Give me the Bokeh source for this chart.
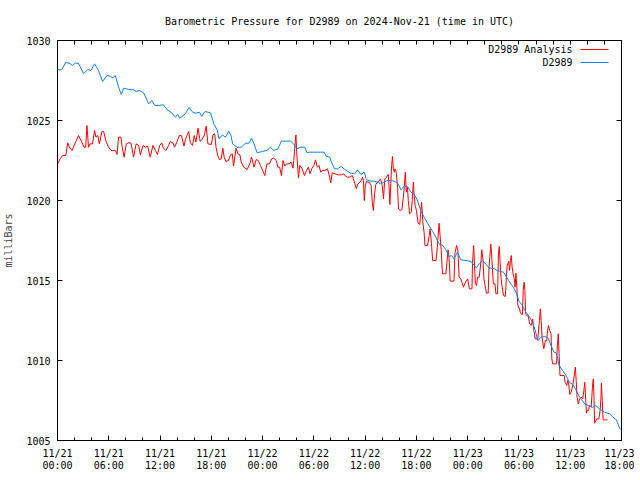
from bokeh.plotting import figure
from bokeh.models import Range1d, FixedTicker, LinearAxis, Label, BoxAnnotation
from bokeh.embed import file_html
from bokeh.resources import INLINE

# ---------------- data (hours since 2024-11-21 00:00 UTC, millibars) ----------------
title_text = "Barometric Pressure for D2989 on 2024-Nov-21 (time in UTC)"
y_label = "milliBars"
series_names = ["D2989 Analysis", "D2989"]

x_tick_hours = [0, 6, 12, 18, 24, 30, 36, 42, 48, 54, 60, 66]
x_minor_hours = list(range(0, 67, 2))
x_tick_labels = ["11/21\n00:00", "11/21\n06:00", "11/21\n12:00", "11/21\n18:00",
                 "11/22\n00:00", "11/22\n06:00", "11/22\n12:00", "11/22\n18:00",
                 "11/23\n00:00", "11/23\n06:00", "11/23\n12:00", "11/23\n18:00"]
y_ticks = [1005, 1010, 1015, 1020, 1025, 1030]

blue_hours = [0.0, 0.5, 1.0, 1.5, 1.75, 2.07, 2.46, 3.05, 3.55, 3.9, 4.34, 4.8, 5.28, 5.78,
              6.18, 6.49, 6.76, 7.15, 7.46, 7.74, 8.32, 8.9, 9.2, 9.6, 10.1, 10.67, 11.05,
              11.37, 11.84, 12.4, 12.8, 13.4, 13.8, 14.07, 14.3, 14.97, 15.4, 15.87, 16.25,
              16.6, 16.9, 17.1, 17.3, 17.9, 18.3, 18.7, 18.9, 19.3, 19.65, 20.05, 20.3, 20.5,
              21.0, 21.5, 22.0, 22.4, 22.7, 23.0, 23.36, 23.95, 24.5, 24.9, 25.3, 25.8, 26.2,
              26.7, 27.3, 27.7, 28.0, 28.45, 28.95, 29.2, 29.5, 30.0, 30.4, 30.8, 31.2, 31.45,
              31.85, 32.15, 32.4, 32.75, 33.2, 33.6, 34.0, 34.3, 34.8, 35.1, 35.5, 35.9, 36.15,
              36.7, 37.05, 37.45, 37.8, 38.2, 38.6, 39.0, 39.4, 39.8, 40.2, 40.55, 40.95, 41.35,
              41.7, 42.1, 42.5, 42.9, 43.3, 43.9, 44.3, 44.7, 45.1, 45.5, 45.8, 46.1, 46.4,
              46.8, 47.2, 47.8, 48.4, 49.0, 49.35, 49.75, 50.1, 50.5, 51.1, 51.7, 52.2, 52.5,
              52.8, 53.1, 53.4, 53.7, 54.0, 54.4, 54.8, 55.2, 55.6, 55.9, 56.2, 56.6, 57.0,
              57.4, 57.75, 58.1, 58.4, 58.7, 59.1, 59.5, 59.9, 60.3, 60.7, 61.1, 61.7, 62.1,
              62.6, 63.0, 63.4, 64.0, 64.6, 65.0, 65.4, 65.7, 65.85]
blue_mb = [1028.17, 1028.17, 1028.65, 1028.54, 1028.44, 1028.58, 1028.58, 1027.92, 1028.19,
           1028.12, 1028.54, 1028.12, 1027.44, 1027.81, 1027.77, 1027.66, 1027.81, 1027.08,
           1026.63, 1027.02, 1026.94, 1026.92, 1026.81, 1026.88, 1026.71, 1026.04, 1026.25,
           1025.94, 1025.94, 1025.98, 1025.69, 1025.46, 1025.21, 1025.38, 1025.14, 1025.42,
           1025.83, 1025.48, 1025.46, 1025.52, 1025.25, 1025.48, 1025.56, 1025.48, 1024.79,
           1024.38, 1023.85, 1024.10, 1023.96, 1024.33, 1024.06, 1023.54, 1023.33, 1023.33,
           1023.58, 1023.58, 1023.90, 1023.54, 1022.98, 1023.06, 1023.13, 1023.33, 1023.13,
           1023.23, 1023.71, 1023.71, 1023.71, 1023.48, 1023.23, 1023.33, 1023.33, 1022.98,
           1023.02, 1023.02, 1023.02, 1023.02, 1023.02, 1022.77, 1022.71, 1022.29, 1021.98,
           1021.98, 1022.13, 1021.95, 1021.81, 1021.71, 1021.67, 1021.92, 1021.63, 1021.77,
           1021.29, 1021.21, 1021.21, 1021.15, 1021.04, 1021.15, 1021.25, 1021.25, 1021.21,
           1021.08, 1020.67, 1020.88, 1020.88, 1020.52, 1020.42, 1020.04, 1019.38, 1018.96,
           1018.58, 1018.08, 1017.67, 1017.25, 1017.19, 1016.88, 1016.50, 1016.56, 1016.35,
           1016.77, 1016.29, 1016.25, 1016.19, 1015.79, 1016.04, 1016.25, 1016.04, 1015.79,
           1015.73, 1015.58, 1015.52, 1015.25, 1015.00, 1014.75, 1014.54, 1014.21, 1013.71,
           1013.44, 1013.02, 1012.75, 1012.39, 1011.88, 1011.25, 1011.46, 1011.50, 1011.42,
           1010.94, 1010.52, 1010.46, 1009.69, 1009.38, 1009.06, 1008.64, 1008.50, 1008.13,
           1007.71, 1007.29, 1007.19, 1007.08, 1007.19, 1006.98, 1006.77, 1006.67, 1006.46,
           1006.29, 1005.88, 1005.69]

red_hours = [0.0, 0.3, 0.6, 0.97, 1.2, 1.4, 1.7, 2.07, 2.46, 2.85, 3.1, 3.3, 3.45, 3.63, 3.8,
             4.1, 4.34, 4.5, 4.72, 4.9, 5.2, 5.4, 5.7, 5.98, 6.25, 6.76, 6.96, 7.15, 7.42, 7.6,
             7.8, 8.05, 8.3, 8.6, 8.9, 9.2, 9.5, 9.7, 10.0, 10.3, 10.55, 10.85, 11.17, 11.45,
             11.7, 11.96, 12.2, 12.4, 12.7, 13.0, 13.2, 13.5, 13.7, 14.0, 14.25, 14.5, 14.8,
             14.97, 15.15, 15.35, 15.55, 15.8, 16.0, 16.2, 16.45, 16.7, 16.9, 17.0, 17.2, 17.4,
             17.6, 18.0, 18.2, 18.4, 18.55, 18.75, 18.95, 19.15, 19.35, 19.5, 19.7, 20.0,
             20.25, 20.45, 20.6, 20.9, 21.1, 21.35, 21.5, 21.8, 22.2, 22.5, 22.7, 23.0, 23.25,
             23.5, 23.75, 24.0, 24.25, 24.5, 24.8, 25.05, 25.3, 25.6, 25.8, 26.0, 26.2, 26.4,
             26.6, 26.8, 27.1, 27.35, 27.55, 27.65, 27.75, 27.9, 28.0, 28.2, 28.35, 28.6, 28.9,
             29.15, 29.35, 29.55, 29.75, 30.0, 30.2, 30.4, 30.6, 30.8, 31.0, 31.3, 31.6, 31.85,
             31.97, 32.15, 32.5, 32.85, 33.25, 33.5, 33.7, 33.9, 34.2, 34.5, 34.8, 34.97, 35.15,
             35.4, 35.55, 35.7, 35.8, 35.9, 36.0, 36.15, 36.3, 36.5, 36.7, 36.85, 36.97, 37.1,
             37.25, 37.45, 37.6, 37.8, 38.0, 38.15, 38.3, 38.5, 38.7, 38.8, 38.9, 39.0, 39.1,
             39.2, 39.3, 39.42, 39.5, 39.58, 39.65, 39.8, 39.9, 40.1, 40.3, 40.45, 40.55, 40.7,
             40.82, 40.95, 41.05, 41.2, 41.4, 41.5, 41.65, 41.72, 41.85, 42.0, 42.2, 42.4, 42.5,
             42.6, 42.68, 42.75, 42.9, 43.0, 43.3, 43.5, 43.6, 43.75, 43.9, 44.3, 44.45, 44.65,
             44.77, 44.9, 45.05, 45.45, 45.57, 45.7, 45.82, 45.95, 46.4, 46.5, 46.7, 46.85,
             47.0, 47.2, 47.5, 47.75, 48.0, 48.2, 48.5, 48.57, 48.7, 48.9, 49.05, 49.15, 49.35,
             49.55, 49.65, 49.8, 49.9, 50.1, 50.2, 50.4, 50.5, 50.6, 50.7, 50.8, 51.0, 51.2,
             51.3, 51.5, 51.6, 51.7, 51.78, 51.9, 52.0, 52.2, 52.4, 52.48, 52.6, 52.8, 52.9,
             53.0, 53.1, 53.2, 53.3, 53.45, 53.55, 53.65, 53.75, 53.85, 53.95, 54.05, 54.15,
             54.3, 54.4, 54.5, 54.6, 54.7, 54.78, 54.9, 55.1, 55.25, 55.45, 55.6, 55.75, 55.9,
             56.2, 56.4, 56.5, 56.6, 56.7, 56.9, 57.1, 57.25, 57.35, 57.45, 57.6, 57.75, 57.85,
             57.95, 58.4, 58.5, 58.6, 58.7, 58.8, 59.3, 59.4, 59.6, 59.7, 59.8, 59.95, 60.1,
             60.3, 60.5, 60.6, 60.7, 60.8, 60.95, 61.1, 61.3, 61.45, 61.6, 61.7, 61.9, 62.0,
             62.15, 62.25, 62.45, 62.6, 62.7, 62.78, 62.85, 63.0, 63.1, 63.35, 63.5, 63.6,
             63.65, 63.75, 63.85, 64.35]
red_mb = [1022.29, 1022.60, 1022.81, 1022.81, 1023.60, 1023.33, 1023.13, 1023.60, 1024.06,
          1023.65, 1023.33, 1023.33, 1024.69, 1023.33, 1023.54, 1023.54, 1024.38, 1023.96,
          1024.06, 1023.54, 1024.31, 1024.31, 1023.65, 1023.33, 1023.13, 1023.13, 1022.88,
          1023.96, 1023.96, 1023.23, 1022.71, 1023.54, 1023.60, 1023.60, 1022.71, 1023.54,
          1023.44, 1022.85, 1023.44, 1023.33, 1023.40, 1022.71, 1023.44, 1023.13, 1022.88,
          1023.44, 1023.60, 1023.27, 1023.13, 1023.44, 1023.69, 1023.60, 1023.33, 1023.69,
          1024.06, 1024.06, 1023.40, 1023.81, 1024.06, 1024.31, 1023.60, 1023.44, 1024.06,
          1023.65, 1024.52, 1023.69, 1023.81, 1023.90, 1024.10, 1024.65, 1023.54, 1023.50,
          1024.10, 1024.17, 1023.33, 1022.81, 1022.56, 1022.60, 1023.27, 1022.71, 1022.44,
          1022.50, 1022.85, 1022.92, 1022.15, 1023.27, 1022.92, 1022.85, 1022.40, 1022.08,
          1021.94, 1022.29, 1022.71, 1022.08, 1022.56, 1022.50, 1022.19, 1021.88, 1021.56,
          1022.29, 1022.29, 1022.60, 1022.65, 1022.50, 1022.08, 1022.08, 1021.56, 1022.50,
          1022.15, 1022.29, 1022.29, 1022.40, 1022.02, 1022.50, 1023.23, 1024.10, 1022.92,
          1021.40, 1022.19, 1022.02, 1021.56, 1021.88, 1022.08, 1021.67, 1021.98, 1022.19,
          1022.54, 1022.08, 1022.19, 1021.77, 1021.88, 1021.88, 1021.98, 1021.46, 1021.10,
          1021.73, 1021.67, 1021.60, 1021.60, 1021.67, 1021.52, 1021.46, 1021.46, 1021.56,
          1021.04, 1020.73, 1021.04, 1021.15, 1021.25, 1021.46, 1021.25, 1020.00, 1020.83,
          1021.21, 1021.15, 1021.15, 1020.94, 1019.79, 1019.38, 1020.42, 1021.00, 1021.15,
          1021.21, 1021.35, 1020.94, 1020.10, 1021.35, 1021.46, 1021.63, 1020.83, 1019.75,
          1021.04, 1022.19, 1022.75, 1021.98, 1021.77, 1021.98, 1021.90, 1021.67, 1020.83,
          1019.48, 1019.38, 1019.42, 1020.10, 1020.63, 1021.77, 1020.52, 1020.83, 1020.00,
          1019.17, 1019.27, 1020.00, 1021.15, 1020.42, 1019.69, 1019.38, 1018.58, 1018.50,
          1019.27, 1019.90, 1019.38, 1018.65, 1018.02, 1017.19, 1017.19, 1017.81, 1018.23,
          1017.40, 1016.25, 1016.25, 1017.08, 1018.58, 1017.81, 1016.88, 1015.42, 1015.42,
          1016.15, 1016.92, 1016.46, 1014.96, 1014.96, 1016.67, 1017.19, 1016.88, 1015.21,
          1015.10, 1014.58, 1014.90, 1015.10, 1014.48, 1014.48, 1016.15, 1017.19, 1014.79,
          1014.69, 1015.21, 1015.21, 1016.15, 1016.92, 1016.25, 1015.10, 1014.48, 1014.21,
          1014.21, 1015.83, 1016.50, 1017.29, 1016.67, 1014.79, 1014.79, 1014.17, 1014.17,
          1016.67, 1017.13, 1016.25, 1015.21, 1014.69, 1014.06, 1014.00, 1014.69, 1015.88,
          1016.21, 1015.63, 1016.25, 1016.56, 1015.83, 1015.46, 1015.10, 1014.58, 1015.46,
          1014.58, 1013.54, 1013.29, 1013.29, 1013.02, 1012.88, 1012.88, 1014.38, 1014.90,
          1014.38, 1012.92, 1012.81, 1012.75, 1012.29, 1012.19, 1012.60, 1011.88, 1011.35,
          1011.35, 1012.50, 1013.23, 1012.50, 1011.46, 1010.73, 1011.25, 1011.25, 1011.88,
          1012.19, 1011.88, 1011.67, 1010.10, 1009.79, 1009.79, 1010.94, 1011.67, 1010.42,
          1009.06, 1009.06, 1008.64, 1008.44, 1008.75, 1008.64, 1007.88, 1008.02, 1008.44,
          1009.17, 1009.58, 1008.75, 1007.71, 1007.29, 1007.60, 1007.71, 1007.60, 1008.13,
          1008.64, 1006.71, 1006.88, 1006.88, 1007.19, 1007.08, 1008.33, 1008.85, 1007.71,
          1006.08, 1006.25, 1006.35, 1006.35, 1006.88, 1007.71, 1008.58, 1007.50, 1006.29,
          1006.29]

# ---------------- styling ----------------
FONT = "DejaVu Sans Mono"
FS = "10px"
RED = "#ff0000"
BLUE = "#0a80f5"

p = figure(frame_width=564, frame_height=400, output_backend="svg", toolbar_location=None,
           x_range=Range1d(0, 66), y_range=Range1d(1005, 1030),
           x_axis_type=None, y_axis_type=None,
           min_border_left=55, min_border_right=13, min_border_top=40, min_border_bottom=30)

p.title.text = title_text
p.title.align = "center"
p.title.text_font = FONT
p.title.text_font_size = FS
p.title.text_font_style = "normal"
p.title.text_color = "black"
p.title.standoff = 27
p.xgrid.visible = False
p.ygrid.visible = False
p.outline_line_color = "black"
p.background_fill_color = "white"
p.border_fill_color = "white"


def style_axis(ax):
    ax.major_tick_in = 5
    ax.major_tick_out = 0
    ax.minor_tick_in = 3
    ax.minor_tick_out = 0
    ax.axis_line_color = "black"
    ax.major_tick_line_color = "black"
    ax.minor_tick_line_color = "black"
    ax.major_label_text_font = FONT
    ax.major_label_text_font_size = FS
    ax.major_label_text_color = "black"
    ax.major_label_standoff = 7
    return ax


x_overrides = {h: lab for h, lab in zip(x_tick_hours, x_tick_labels)}

bottom = style_axis(LinearAxis(ticker=FixedTicker(ticks=x_tick_hours, minor_ticks=x_minor_hours)))
bottom.major_label_overrides = x_overrides
bottom.major_label_text_line_height = 1.1

left = style_axis(LinearAxis(ticker=FixedTicker(ticks=y_ticks, minor_ticks=[])))
left.axis_label = y_label
left.axis_label_text_font = FONT
left.axis_label_text_font_size = FS
left.axis_label_text_font_style = "normal"
left.axis_label_standoff = 9

# mirror axes (ticks only, no labels): tick positions given as minor ticks
top = style_axis(LinearAxis(ticker=FixedTicker(ticks=[], minor_ticks=x_minor_hours)))
top.minor_tick_in = 4
top.major_label_standoff = 0
right = style_axis(LinearAxis(ticker=FixedTicker(ticks=[], minor_ticks=y_ticks)))
right.minor_tick_in = 5
right.major_label_standoff = 0

p.add_layout(bottom, "below")
p.add_layout(top, "above")
p.add_layout(left, "left")
p.add_layout(right, "right")

p.line(red_hours, red_mb, line_color=RED, line_width=1)
p.line(blue_hours, blue_mb, line_color=BLUE, line_width=1)

# legend (gnuplot style: text then sample line), screen units relative to the frame
for i, (name, col) in enumerate(zip(series_names, [RED, BLUE])):
    yy = 391 - 13 * i
    p.add_layout(Label(x=515, y=yy, x_units="screen", y_units="screen", text=name,
                       text_font=FONT, text_font_size=FS, text_align="right",
                       text_baseline="middle", text_color="black"))
    p.add_layout(BoxAnnotation(left=523, right=551, bottom=yy - 0.5, top=yy + 0.5,
                               left_units="screen", right_units="screen",
                               bottom_units="screen", top_units="screen",
                               fill_color=col, fill_alpha=1.0, line_color=None))

open("out.html", "w").write(file_html(p, INLINE))
